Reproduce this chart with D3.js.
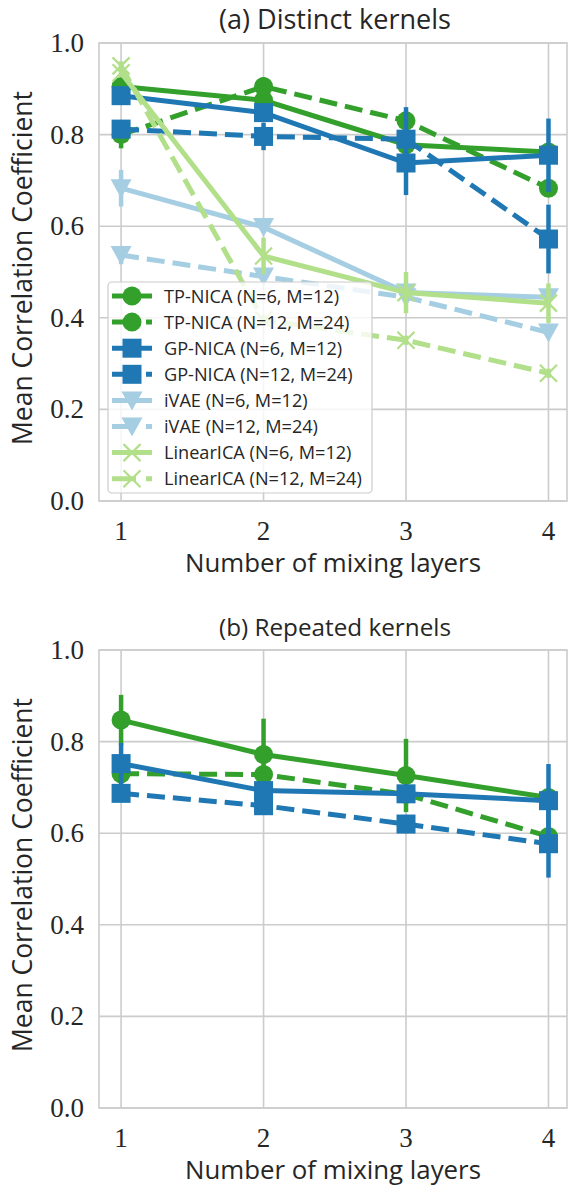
<!DOCTYPE html>
<html lang="en">
<head>
<meta charset="UTF-8">
<title>Mean Correlation Coefficient</title>
<script src="https://cdn.jsdelivr.net/npm/d3@7"></script>
<style>
  body { margin: 0; background: #fff; }
</style>
</head>
<body>
<div id="chart"></div>
<script>
// data
var layers = [1, 2, 3, 4];
var yTicks = [0.0, 0.2, 0.4, 0.6, 0.8, 1.0];
var seriesLabels = [
  "TP-NICA (N=6, M=12)", "TP-NICA (N=12, M=24)",
  "GP-NICA (N=6, M=12)", "GP-NICA (N=12, M=24)",
  "iVAE (N=6, M=12)", "iVAE (N=12, M=24)",
  "LinearICA (N=6, M=12)", "LinearICA (N=12, M=24)"
];

// (a) distinct kernels: means and half-widths of the error bars
var aTp6 = [0.905, 0.875, 0.778, 0.762];
var aTp12 = [0.800, 0.905, 0.830, 0.683];
var aGp6 = [0.885, 0.848, 0.738, 0.755];
var aGp12 = [0.812, 0.796, 0.790, 0.572];
var aIvae6 = [0.683, 0.598, 0.455, 0.445];
var aIvae12 = [0.537, 0.490, 0.445, 0.368];
var aLin6 = [0.935, 0.535, 0.455, 0.432];
var aLin12 = [0.950, 0.395, 0.351, 0.279];

var aTp6Err = [0.01, 0.01, 0.01, 0.01];
var aTp12Err = [0.03, 0.02, 0.02, 0.01];
var aGp6Err = [0.02, 0.02, 0.07, 0.08];
var aGp12Err = [0.02, 0.03, 0.07, 0.075];
var aIvae6Err = [0.04, 0.01, 0.01, 0.01];
var aIvae12Err = [0.02, 0.01, 0.01, 0.01];
var aLin6Err = [0.01, 0.04, 0.045, 0.043];
var aLin12Err = [0.01, 0.01, 0.01, 0.01];

// (b) repeated kernels
var bTp6 = [0.847, 0.772, 0.726, 0.678];
var bTp12 = [0.730, 0.728, 0.685, 0.593];
var bGp6 = [0.752, 0.693, 0.686, 0.671];
var bGp12 = [0.687, 0.660, 0.620, 0.577];

var bTp6Err = [0.055, 0.078, 0.08, 0.01];
var bTp12Err = [0.01, 0.01, 0.01, 0.01];
var bGp6Err = [0.045, 0.02, 0.02, 0.08];
var bGp12Err = [0.01, 0.01, 0.02, 0.074];

// styles
var colors = ["#33a02c", "#33a02c", "#1f78b4", "#1f78b4", "#a6cee3", "#a6cee3", "#b2df8a", "#b2df8a"];
var dashed = [false, true, false, true, false, true, false, true];
var markers = ["circle", "circle", "square", "square", "tri", "tri", "x", "x"];

var width = 569, height = 1186;
var sans = "'Open Sans', 'DejaVu Sans', sans-serif";
var serif = "'Liberation Serif', 'DejaVu Serif', serif";
var textColor = "#262626";
var gridColor = "#cccccc";

var svg = d3.select("#chart").append("svg")
  .attr("width", width).attr("height", height);

var x = d3.scaleLinear().domain([0.845, 4.13]).range([99, 567]);

// scale the font so the text takes the width it has in the picture
function fit(sel, target) {
  var fs = +sel.attr("font-size");
  var len = sel.node().getComputedTextLength();
  if (len > 0) sel.attr("font-size", (fs * target / len).toFixed(2));
  return sel;
}

function drawMarker(g, type, cx, cy, color) {
  if (type === "circle") {
    g.append("circle").attr("cx", cx).attr("cy", cy).attr("r", 9.5).attr("fill", color);
  } else if (type === "square") {
    g.append("rect").attr("x", cx - 9.5).attr("y", cy - 9.5)
      .attr("width", 19).attr("height", 19).attr("fill", color);
  } else if (type === "tri") {
    g.append("path")
      .attr("d", "M" + (cx - 10.5) + "," + (cy - 9) + "L" + (cx + 10.5) + "," + (cy - 9) + "L" + cx + "," + (cy + 10) + "Z")
      .attr("fill", color);
  } else {
    var s = 8.5;
    g.append("path")
      .attr("d", "M" + (cx - s) + "," + (cy - s) + "L" + (cx + s) + "," + (cy + s) +
                 "M" + (cx - s) + "," + (cy + s) + "L" + (cx + s) + "," + (cy - s))
      .attr("stroke", color).attr("stroke-width", 2.2).attr("fill", "none");
  }
}

function drawPanel(opt) {
  var y = d3.scaleLinear().domain([0, 1]).range([opt.bottom, opt.top]);
  var g = svg.append("g");

  // grid
  g.selectAll(".gy").data(yTicks).enter().append("line")
    .attr("x1", x.range()[0]).attr("x2", x.range()[1])
    .attr("y1", function (d) { return y(d); }).attr("y2", function (d) { return y(d); })
    .attr("stroke", gridColor).attr("stroke-width", 1.6);
  g.selectAll(".gx").data(layers).enter().append("line")
    .attr("x1", function (d) { return x(d); }).attr("x2", function (d) { return x(d); })
    .attr("y1", opt.top).attr("y2", opt.bottom)
    .attr("stroke", gridColor).attr("stroke-width", 1.6);
  g.append("rect")
    .attr("x", x.range()[0]).attr("y", opt.top)
    .attr("width", x.range()[1] - x.range()[0]).attr("height", opt.bottom - opt.top)
    .attr("fill", "none").attr("stroke", gridColor).attr("stroke-width", 1.6);

  // tick labels
  g.selectAll(".ty").data(yTicks).enter().append("text")
    .attr("x", 84).attr("y", function (d) { return y(d) + 9; })
    .attr("text-anchor", "end")
    .attr("font-family", serif).attr("font-size", 27).attr("fill", textColor)
    .text(function (d) { return d.toFixed(1); });
  g.selectAll(".tx").data(layers).enter().append("text")
    .attr("x", function (d) { return x(d); }).attr("y", opt.bottom + 39)
    .attr("text-anchor", "middle")
    .attr("font-family", serif).attr("font-size", 27).attr("fill", textColor)
    .text(function (d) { return d; });

  // labels
  fit(g.append("text").attr("x", 335).attr("y", opt.top - 14)
    .attr("text-anchor", "middle").attr("font-family", sans).attr("font-size", 24)
    .attr("fill", textColor).text(opt.title), 232);
  fit(g.append("text").attr("x", 333).attr("y", opt.xlabelY)
    .attr("text-anchor", "middle").attr("font-family", sans).attr("font-size", 24)
    .attr("fill", textColor).text("Number of mixing layers"), 296);
  fit(g.append("text")
    .attr("transform", "translate(32," + ((opt.top + opt.bottom) / 2 - 4) + ") rotate(-90)")
    .attr("text-anchor", "middle").attr("font-family", sans).attr("font-size", 24)
    .attr("fill", textColor).text("Mean Correlation Coefficient"), 354);

  // series
  var line = d3.line().x(function (d) { return x(d[0]); }).y(function (d) { return y(d[1]); });
  opt.series.forEach(function (s) {
    var sg = g.append("g");
    var pts = layers.map(function (l, i) { return [l, s.values[i], s.errors[i]]; });
    sg.selectAll(".err").data(pts).enter().append("line")
      .attr("x1", function (d) { return x(d[0]); }).attr("x2", function (d) { return x(d[0]); })
      .attr("y1", function (d) { return y(d[1] - d[2]); }).attr("y2", function (d) { return y(d[1] + d[2]); })
      .attr("stroke", colors[s.idx]).attr("stroke-width", 4.5);
    sg.append("path").datum(pts).attr("d", line)
      .attr("fill", "none").attr("stroke", colors[s.idx]).attr("stroke-width", 5)
      .attr("stroke-dasharray", dashed[s.idx] ? "18,8" : null);
    pts.forEach(function (d) {
      drawMarker(sg, markers[s.idx], x(d[0]), y(d[1]), colors[s.idx]);
    });
  });

  if (opt.legend) {
    var lg = g.append("g");
    lg.append("rect").attr("x", 108).attr("y", 282).attr("width", 264).attr("height", 211)
      .attr("rx", 4).attr("fill", "#fff").attr("fill-opacity", 0.8)
      .attr("stroke", gridColor).attr("stroke-width", 1.2);
    var texts = [];
    opt.series.forEach(function (s, i) {
      var cy = 296 + i * 26.1;
      lg.append("line").attr("x1", 112).attr("x2", 152).attr("y1", cy).attr("y2", cy)
        .attr("stroke", colors[s.idx]).attr("stroke-width", 5)
        .attr("stroke-dasharray", dashed[s.idx] ? "24,10" : null);
      drawMarker(lg, markers[s.idx], 132, cy, colors[s.idx]);
      texts.push(lg.append("text").attr("x", 164).attr("y", cy + 6.5)
        .attr("font-family", sans).attr("font-size", 18).attr("fill", textColor)
        .text(seriesLabels[s.idx]));
    });
    // size all entries from the longest one
    var legendSize = +fit(texts[texts.length - 1], 198).attr("font-size");
    texts.forEach(function (t) { t.attr("font-size", legendSize); });
  }
}

var seriesA = [
  { idx: 0, values: aTp6, errors: aTp6Err },
  { idx: 1, values: aTp12, errors: aTp12Err },
  { idx: 2, values: aGp6, errors: aGp6Err },
  { idx: 3, values: aGp12, errors: aGp12Err },
  { idx: 4, values: aIvae6, errors: aIvae6Err },
  { idx: 5, values: aIvae12, errors: aIvae12Err },
  { idx: 6, values: aLin6, errors: aLin6Err },
  { idx: 7, values: aLin12, errors: aLin12Err }
];
var seriesB = [
  { idx: 0, values: bTp6, errors: bTp6Err },
  { idx: 1, values: bTp12, errors: bTp12Err },
  { idx: 2, values: bGp6, errors: bGp6Err },
  { idx: 3, values: bGp12, errors: bGp12Err }
];

drawPanel({ top: 43, bottom: 501, xlabelY: 572, title: "(a) Distinct kernels", series: seriesA, legend: true });
drawPanel({ top: 650, bottom: 1108, xlabelY: 1179, title: "(b) Repeated kernels", series: seriesB, legend: false });
</script>
</body>
</html>
